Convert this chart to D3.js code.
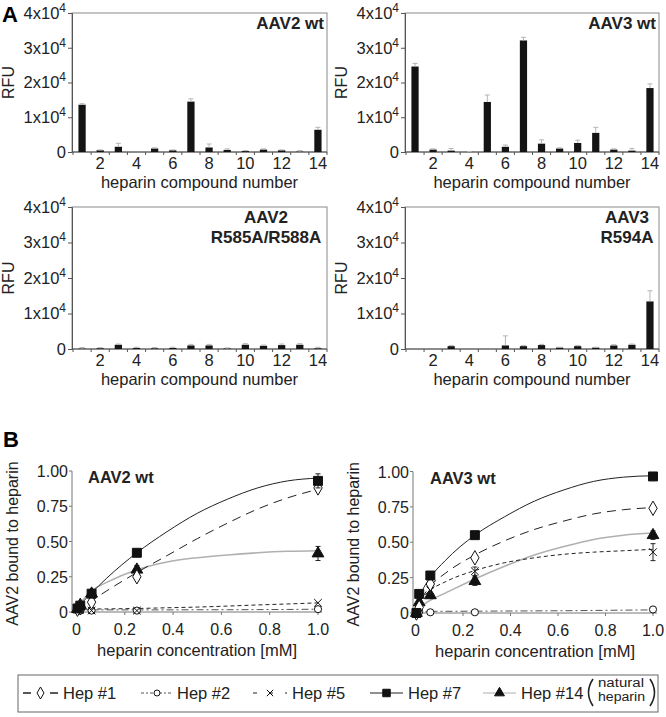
<!DOCTYPE html>
<html><head><meta charset="utf-8">
<script src="https://cdn.jsdelivr.net/npm/d3@7"></script>
<style>
html,body{margin:0;padding:0;background:#fff;}
svg{display:block;font-family:"Liberation Sans",Arial,Helvetica,sans-serif;}
</style></head>
<body>
<svg id="chart" width="666" height="717"></svg>
<script>
// ---------- DATA ----------
const compounds = [1,2,3,4,5,6,7,8,9,10,11,12,13,14];
const compoundTicks = [2,4,6,8,10,12,14];
const rfuTicks = [0,10000,20000,30000,40000];

const aav2wt      = [13600, 500, 1500, 0, 1000, 500, 14500, 1300, 600, 300, 700, 500, 100, 6400];
const aav2wtErr   = [300, 100, 1000, 0, 200, 100, 800, 1000, 300, 100, 200, 100, 300, 700];
const aav3wt      = [24600, 700, 400, 50, 14400, 1500, 32100, 2400, 1000, 2600, 5500, 700, 400, 18400];
const aav3wtErr   = [900, 200, 600, 100, 2000, 500, 900, 1100, 200, 800, 1600, 200, 600, 1200];
const aav2mut     = [100, 200, 1200, 300, 200, 300, 1000, 1000, 200, 1200, 900, 1100, 1200, 200];
const aav2mutErr  = [300, 200, 200, 200, 200, 200, 300, 300, 100, 300, 200, 300, 300, 300];
const aav3mut     = [0, 0, 800, 0, 0, 1000, 800, 1100, 400, 800, 400, 1000, 1200, 13400];
const aav3mutErr  = [0, 0, 200, 0, 0, 2700, 200, 200, 100, 200, 100, 200, 200, 3000];

const concentrations = [0.0039, 0.0156, 0.0625, 0.25, 1.0];
const concTicks = [0, 0.2, 0.4, 0.6, 0.8, 1.0];
const boundTicks = [0, 0.25, 0.5, 0.75, 1.0];
const series = ["Hep #1","Hep #2","Hep #5","Hep #7","Hep #14"];

// AAV2 wt binding (points)
const b2_hep1  = [0.02, 0.03, 0.07, 0.25, 0.88];
const b2_hep2  = [0.02, 0.01, 0.01, 0.01, 0.02];
const b2_hep5  = [0.02, 0.015, 0.01, 0.01, 0.065];
const b2_hep7  = [0.025, 0.045, 0.13, 0.42, 0.93];
const b2_hep14 = [0.02, 0.05, 0.13, 0.30, 0.415];
const b2_err7  = [0, 0, 0.01, 0.02, 0.05];
const b2_err14 = [0, 0, 0.01, 0.03, 0.05];
const b2_err1  = [0, 0, 0, 0.02, 0.02];
// AAV3 wt binding (points)
const b3_hep1  = [0.0, 0.04, 0.205, 0.39, 0.74];
const b3_hep2  = [0.0, 0.01, 0.005, 0.005, 0.025];
const b3_hep5  = [0.0, 0.09, 0.16, 0.295, 0.43];
const b3_hep7  = [0.0, 0.135, 0.265, 0.55, 0.965];
const b3_hep14 = [0.0, 0.075, 0.125, 0.225, 0.55];
const b3_err5  = [0, 0, 0.02, 0.03, 0.06];
const b3_err14 = [0, 0, 0.02, 0.03, 0.03];

// fitted curves
const fitX = [0, 0.02, 0.0625, 0.125, 0.25, 0.375, 0.5, 0.625, 0.75, 0.875, 1.0];
const f2_hep1  = [0.01, 0.035, 0.08, 0.15, 0.28, 0.40, 0.52, 0.63, 0.73, 0.81, 0.87];
const f2_hep2  = [0.015, 0.015, 0.015, 0.015, 0.015, 0.015, 0.016, 0.016, 0.017, 0.018, 0.02];
const f2_hep5  = [0.02, 0.02, 0.021, 0.022, 0.025, 0.03, 0.035, 0.042, 0.05, 0.057, 0.065];
const f2_hep7  = [0.02, 0.06, 0.135, 0.24, 0.42, 0.57, 0.70, 0.80, 0.88, 0.93, 0.95];
const f2_hep14 = [0.02, 0.07, 0.15, 0.21, 0.30, 0.355, 0.385, 0.405, 0.42, 0.43, 0.435];
const f3_hep1  = [0.0, 0.08, 0.19, 0.28, 0.41, 0.51, 0.59, 0.65, 0.70, 0.73, 0.745];
const f3_hep2  = [0.01, 0.01, 0.012, 0.012, 0.013, 0.014, 0.015, 0.016, 0.018, 0.02, 0.022];
const f3_hep5  = [0.0, 0.08, 0.16, 0.22, 0.30, 0.355, 0.39, 0.415, 0.43, 0.44, 0.45];
const f3_hep7  = [0.0, 0.12, 0.25, 0.37, 0.55, 0.68, 0.79, 0.87, 0.93, 0.96, 0.97];
const f3_hep14 = [0.0, 0.04, 0.09, 0.14, 0.24, 0.33, 0.41, 0.47, 0.52, 0.55, 0.565];

// ---------- DRAW ----------
const svg = d3.select("#chart");
const FONT = 16.5;

svg.append("text").attr("x",2).attr("y",22).attr("font-size",22).attr("font-weight","bold").text("A");
svg.append("text").attr("x",3).attr("y",447).attr("font-size",22).attr("font-weight","bold").text("B");

function barPanel(o){
  const g = svg.append("g");
  const x = d3.scaleBand().domain(compounds).range([o.left+1, o.right]).paddingInner(0.6).paddingOuter(0.3);
  const y = d3.scaleLinear().domain([0,40000]).range([o.bottom, o.top]);
  g.append("rect").attr("x",o.left).attr("y",o.top).attr("width",o.right-o.left).attr("height",o.bottom-o.top)
    .attr("fill","none").attr("stroke","#8a8a8a").attr("stroke-width",1);
  const ya = g.append("g").attr("transform",`translate(${o.left},0)`)
    .call(d3.axisLeft(y).tickValues(rfuTicks).tickSize(4).tickPadding(2));
  ya.select(".domain").attr("stroke","#555");
  ya.selectAll(".tick line").attr("stroke","#555");
  ya.selectAll(".tick text").attr("font-size",FONT).attr("fill","#222").each(function(d){
    const t = d3.select(this); t.text(null);
    if(d===0){ t.text("0"); }
    else { t.append("tspan").text(`${d/10000}x10`); t.append("tspan").attr("dy",-7).attr("font-size",12).text("4"); }
  });
  g.append("line").attr("x1",o.left).attr("x2",o.right).attr("y1",o.bottom).attr("y2",o.bottom).attr("stroke","#555");
  const bounds = compounds.map(c=>x(c)-x.step()*x.paddingInner()/2).concat([o.right]);
  g.selectAll(".xt").data(bounds).join("line").attr("x1",d=>d).attr("x2",d=>d)
    .attr("y1",o.bottom).attr("y2",o.bottom+3).attr("stroke","#555");
  g.selectAll(".xl").data(compoundTicks).join("text")
    .attr("x",d=>x(d)+x.bandwidth()/2).attr("y",o.bottom+17).attr("text-anchor","middle")
    .attr("font-size",FONT).attr("fill","#222").text(d=>d);
  g.append("text").attr("x",(o.left+o.right)/2).attr("y",o.bottom+36).attr("text-anchor","middle")
    .attr("font-size",FONT).attr("fill","#222").text("heparin compound number");
  g.append("text").attr("transform",`translate(${o.left-58},${(o.top+o.bottom)/2}) rotate(-90)`)
    .attr("text-anchor","middle").attr("font-size",16).attr("fill","#222").text("RFU");
  g.selectAll(".bar").data(o.values).join("rect")
    .attr("x",(d,i)=>x(compounds[i])).attr("width",x.bandwidth())
    .attr("y",d=>y(d)).attr("height",d=>Math.max(0,o.bottom-y(d))).attr("fill","#141414");
  const eg = g.selectAll(".err").data(o.values).join("g");
  eg.each(function(d,i){
    const e = o.errs[i]; if(!e) return;
    const cx = x(compounds[i])+x.bandwidth()/2;
    const s = d3.select(this);
    s.append("line").attr("x1",cx).attr("x2",cx).attr("y1",y(d)).attr("y2",y(d+e)).attr("stroke","#b5b5b5").attr("stroke-width",1);
    s.append("line").attr("x1",cx-2.5).attr("x2",cx+2.5).attr("y1",y(d+e)).attr("y2",y(d+e)).attr("stroke","#b5b5b5").attr("stroke-width",1);
  });
  const tt = g.append("text").attr("font-size",17).attr("font-weight","bold").attr("fill","#222");
  if(o.title.length===1){
    tt.attr("x",o.right-3).attr("y",o.top+16).attr("text-anchor","end").text(o.title[0]);
  } else {
    tt.attr("text-anchor","middle");
    o.title.forEach((t,k)=>tt.append("tspan").attr("x",o.tx).attr("y",o.top+16+k*20).text(t));
  }
}

barPanel({left:72, right:327, top:13, bottom:152, values:aav2wt, errs:aav2wtErr, title:["AAV2 wt"]});
barPanel({left:405, right:659, top:13, bottom:152, values:aav3wt, errs:aav3wtErr, title:["AAV3 wt"]});
barPanel({left:72, right:327, top:207, bottom:349, values:aav2mut, errs:aav2mutErr, title:["AAV2","R585A/R588A"], tx:266});
barPanel({left:405, right:659, top:207, bottom:349, values:aav3mut, errs:aav3mutErr, title:["AAV3","R594A"], tx:627});

const styles = {
  "Hep #1":  {stroke:"#222", dash:"9,6", width:1, sym:d3.symbolDiamond, size:60, fill:"#fff"},
  "Hep #2":  {stroke:"#555", dash:"7,3,2,3", width:1, sym:d3.symbolCircle, size:40, fill:"#fff"},
  "Hep #5":  {stroke:"#222", dash:"4,3", width:1, sym:d3.symbolTimes, size:40, fill:"none"},
  "Hep #7":  {stroke:"#222", dash:null, width:1, sym:d3.symbolSquare, size:80, fill:"#111"},
  "Hep #14": {stroke:"#b0b0b0", dash:null, width:1.5, sym:d3.symbolTriangle, size:60, fill:"#111"}
};

function linePanel(o){
  const g = svg.append("g");
  const x = d3.scaleLinear().domain([0,1]).range([o.x0,o.x1]);
  const y = d3.scaleLinear().domain([0,1]).range([o.y0,o.yTop]);
  g.append("line").attr("x1",o.axisX).attr("x2",o.axisX).attr("y1",o.yTop).attr("y2",o.y0).attr("stroke","#777");
  g.append("line").attr("x1",o.axisX).attr("x2",o.x1+4).attr("y1",o.y0).attr("y2",o.y0).attr("stroke","#777");
  g.selectAll(".yt").data(boundTicks).join("line").attr("x1",o.axisX-3).attr("x2",o.axisX)
    .attr("y1",d=>y(d)).attr("y2",d=>y(d)).attr("stroke","#777");
  g.selectAll(".yl").data(boundTicks).join("text").attr("x",o.axisX-4).attr("y",d=>y(d)+6)
    .attr("text-anchor","end").attr("font-size",16).attr("fill","#222").text(d=>d===0?"0":d3.format(".2f")(d));
  g.selectAll(".xt").data(concTicks).join("line").attr("x1",d=>x(d)).attr("x2",d=>x(d))
    .attr("y1",o.y0).attr("y2",o.y0+3).attr("stroke","#777");
  g.selectAll(".xl").data(concTicks).join("text").attr("x",d=>x(d)).attr("y",o.y0+23)
    .attr("text-anchor","middle").attr("font-size",16).attr("fill","#222").text(d=>d===0?"0":d3.format(".1f")(d));
  g.append("text").attr("x",o.labelX).attr("y",o.y0+44).attr("text-anchor","middle")
    .attr("font-size",16.5).attr("fill","#222").text("heparin concentration [mM]");
  g.append("text").attr("transform",`translate(${o.axisX-54},${(o.yTop+o.y0)/2+2}) rotate(-90)`)
    .attr("text-anchor","middle").attr("font-size",16).attr("fill","#222").text("AAV2 bound to heparin");
  g.append("text").attr("x",o.titleX).attr("y",o.yTop+12).attr("font-size",16.5).attr("font-weight","bold")
    .attr("fill","#222").text(o.title);
  const line = d3.line().x((d,i)=>x(fitX[i])).y(d=>y(d)).curve(d3.curveMonotoneX);
  const order = ["Hep #14","Hep #2","Hep #5","Hep #1","Hep #7"];
  order.forEach(s=>{
    const st = styles[s];
    g.append("path").datum(o.fits[s]).attr("d",line).attr("fill","none")
      .attr("stroke",st.stroke).attr("stroke-width",st.width).attr("stroke-dasharray",st.dash);
  });
  order.forEach(s=>{
    const st = styles[s];
    const vals = o.points[s], errs = o.errs[s] || [];
    vals.forEach((v,i)=>{
      const e = errs[i];
      const cx = x(concentrations[i]);
      if(e){
        g.append("line").attr("x1",cx).attr("x2",cx).attr("y1",y(v-e)).attr("y2",y(v+e)).attr("stroke","#222");
        [v-e,v+e].forEach(w=>g.append("line").attr("x1",cx-2.5).attr("x2",cx+2.5).attr("y1",y(w)).attr("y2",y(w)).attr("stroke","#222"));
      }
    });
    g.selectAll(null).data(vals).join("path")
      .attr("transform",(v,i)=>`translate(${x(concentrations[i])},${y(v)})`)
      .attr("d",d3.symbol().type(st.sym).size(st.size))
      .attr("fill",st.fill).attr("stroke","#111").attr("stroke-width",1);
  });
}

linePanel({axisX:72, x0:76.5, x1:318, yTop:471, y0:612, labelX:197, titleX:88, title:"AAV2 wt",
  fits:{"Hep #1":f2_hep1,"Hep #2":f2_hep2,"Hep #5":f2_hep5,"Hep #7":f2_hep7,"Hep #14":f2_hep14},
  points:{"Hep #1":b2_hep1,"Hep #2":b2_hep2,"Hep #5":b2_hep5,"Hep #7":b2_hep7,"Hep #14":b2_hep14},
  errs:{"Hep #7":b2_err7,"Hep #14":b2_err14,"Hep #1":b2_err1}});
linePanel({axisX:413, x0:415.5, x1:653, yTop:471.5, y0:613, labelX:535, titleX:430, title:"AAV3 wt",
  fits:{"Hep #1":f3_hep1,"Hep #2":f3_hep2,"Hep #5":f3_hep5,"Hep #7":f3_hep7,"Hep #14":f3_hep14},
  points:{"Hep #1":b3_hep1,"Hep #2":b3_hep2,"Hep #5":b3_hep5,"Hep #7":b3_hep7,"Hep #14":b3_hep14},
  errs:{"Hep #5":b3_err5,"Hep #14":b3_err14}});

// legend
const lg = svg.append("g");
lg.append("rect").attr("x",18).attr("y",675).attr("width",640).attr("height",37).attr("fill","none").attr("stroke","#666");
const legendPos = [{s:"Hep #1",x1:23,x2:58,tx:63},{s:"Hep #2",x1:141,x2:173,tx:177},{s:"Hep #5",x1:253,x2:287,tx:292},
  {s:"Hep #7",x1:370,x2:403,tx:408},{s:"Hep #14",x1:483,x2:516,tx:521}];
const ly = 693;
legendPos.forEach((p,k)=>{
  const st = styles[p.s];
  const cx = (p.x1+p.x2)/2;
  const dash = p.s==="Hep #1"?"8,19": p.s==="Hep #5"?"4,12": p.s==="Hep #2"?"3,2,2,2":null;
  lg.append("line").attr("x1",p.x1).attr("x2",p.x2).attr("y1",ly).attr("y2",ly)
    .attr("stroke",p.s==="Hep #14"?"#b0b0b0":st.stroke).attr("stroke-width",p.s==="Hep #1"?1.5:1.2).attr("stroke-dasharray",dash);
  lg.append("path").attr("transform",`translate(${cx},${ly})`)
    .attr("d",d3.symbol().type(st.sym).size(st.size*0.7)).attr("fill",st.fill).attr("stroke","#111").attr("stroke-width",1);
  lg.append("text").attr("x",p.tx).attr("y",ly+6).attr("font-size",16.5).attr("fill","#222").text(series[k]);
});
lg.append("path").attr("d","M593 679 Q584 692.5 593 706").attr("fill","none").attr("stroke","#222").attr("stroke-width",1.6);
lg.append("path").attr("d","M650 679 Q659 692.5 650 706").attr("fill","none").attr("stroke","#222").attr("stroke-width",1.6);
lg.append("text").attr("x",598).attr("y",687).attr("font-size",12.5).attr("fill","#222")
  .attr("textLength",46).attr("lengthAdjust","spacingAndGlyphs").text("natural");
lg.append("text").attr("x",598).attr("y",701).attr("font-size",12.5).attr("fill","#222")
  .attr("textLength",47).attr("lengthAdjust","spacingAndGlyphs").text("heparin");
</script>
</body></html>
